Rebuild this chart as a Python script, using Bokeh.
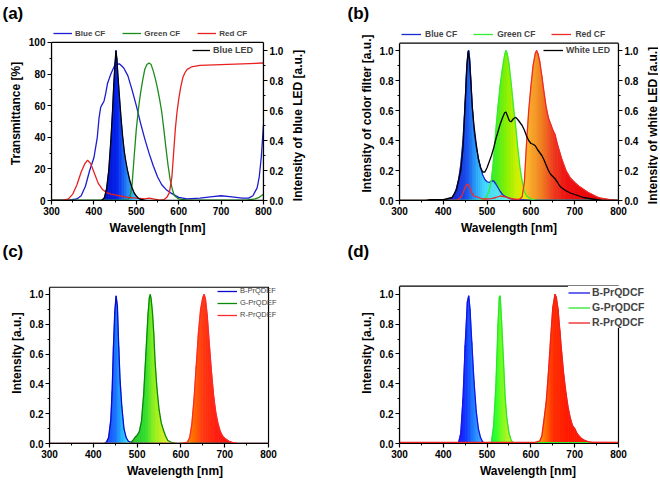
import math
from bokeh.plotting import figure
from bokeh.models import (Range1d, LinearAxis, FixedTicker, Legend, LegendItem, BoxAnnotation, Label,
                          NumeralTickFormatter, ColumnDataSource)
from bokeh.layouts import row, column
from bokeh.embed import file_html
from bokeh.resources import INLINE

FONT = "Liberation Sans"

# ---------------- data ----------------
X_TICKS = [300, 400, 500, 600, 700, 800]
X_MINOR = [350, 450, 550, 650, 750]

# (a) transmittance of colour filters [%] and blue LED intensity [a.u.]
A_BLUE_WL = [300, 340, 360, 370, 380, 390, 400, 408, 412, 416, 420, 424, 428, 432, 440, 450, 460, 470, 480,
             490, 500, 510, 520, 530, 540, 550, 560, 570, 580, 600, 620, 650, 680, 700, 720, 750, 765, 775,
             785, 790, 795, 800]
A_BLUE_T = [0.3, 0.3, 1, 3, 9, 19, 27, 40, 52, 59, 61, 63, 68, 74, 80, 86, 86.5, 84, 79,
            70, 60, 49, 39, 30, 22, 15, 10, 7, 5, 2, 1, 1.5, 2.5, 3, 2.5, 1.5, 1.5, 3,
            8, 15, 28, 48]
A_GREEN_WL = [300, 470, 480, 485, 490, 495, 500, 505, 510, 515, 520, 525, 530, 535, 540, 545, 550, 555,
              560, 565, 570, 575, 580, 585, 590, 600, 620, 760, 780, 790, 800]
A_GREEN_T = [0.3, 0.3, 0.5, 2, 10, 28, 45, 58, 68, 76, 83, 86, 87, 86, 82, 77, 71, 64,
             56, 45, 33, 22, 13, 7, 3, 1, 0.3, 0.3, 1, 2, 4]
A_RED_WL = [300, 330, 340, 350, 360, 370, 378, 385, 392, 400, 410, 420, 430, 440, 450, 460, 470, 480,
            500, 520, 530, 540, 555, 565, 572, 578, 584, 588, 592, 596, 600, 605, 610, 615, 620, 630,
            650, 700, 750, 800]
A_RED_T = [0, 0.3, 1, 4, 10, 18, 23, 25.5, 23.5, 18, 11, 7, 5, 4, 3.5, 3, 2.5, 2,
           1.5, 1, 1.5, 1, 0.3, 0.5, 2, 5, 15, 30, 45, 56, 64, 72, 78, 81, 83, 84.5,
           85.5, 86, 86.5, 87]
A_LED_WL = [300, 415, 420, 425, 430, 435, 440, 444, 447, 450, 452, 454, 457, 460, 464, 468, 472, 476,
            480, 485, 490, 495, 500, 505, 510, 520, 530, 800]
A_LED_I = [0, 0, 0.005, 0.02, 0.08, 0.2, 0.4, 0.6, 0.78, 0.92, 1.0, 0.95, 0.82, 0.7, 0.55, 0.42, 0.32, 0.25,
           0.19, 0.13, 0.085, 0.05, 0.03, 0.015, 0.008, 0.003, 0, 0]

# (b) colour-filtered spectra and white LED [a.u.]
B_BLUE_WL = [300, 400, 410, 420, 425, 430, 435, 440, 445, 450, 453, 456, 458, 460, 463, 466, 470, 475,
             480, 485, 490, 495, 500, 505, 510, 515, 520, 525, 530, 535, 540, 550, 560, 600, 750, 760, 800]
B_BLUE_I = [0, 0, 0.005, 0.02, 0.04, 0.08, 0.14, 0.24, 0.4, 0.66, 0.86, 0.98, 1.0, 0.95, 0.8, 0.63, 0.47, 0.36,
            0.28, 0.22, 0.17, 0.14, 0.125, 0.12, 0.13, 0.13, 0.11, 0.085, 0.06, 0.04, 0.03, 0.015, 0.008,
            0.003, 0.002, 0, 0]
B_GREEN_WL = [300, 480, 490, 495, 500, 505, 510, 515, 520, 525, 530, 535, 540, 543, 546, 550, 555, 560,
              565, 570, 575, 580, 585, 590, 600, 610, 620, 800]
B_GREEN_I = [0, 0, 0.005, 0.012, 0.03, 0.07, 0.14, 0.28, 0.47, 0.63, 0.77, 0.88, 0.97, 1.0, 0.98, 0.91, 0.78,
             0.63, 0.5, 0.35, 0.22, 0.13, 0.06, 0.03, 0.01, 0.003, 0, 0]
B_RED_WL = [300, 430, 440, 445, 450, 455, 460, 465, 470, 480, 490, 500, 510, 520, 530, 540, 550, 560, 570,
            575, 580, 585, 590, 595, 600, 605, 610, 613, 616, 620, 625, 630, 635, 640, 645, 650, 655, 660,
            665, 670, 680, 690, 700, 710, 720, 730, 740, 750, 760, 770, 780, 800]
B_RED_I = [0, 0, 0.02, 0.05, 0.09, 0.11, 0.09, 0.05, 0.03, 0.02, 0.01, 0.01, 0.012, 0.02, 0.03, 0.025, 0.015,
           0.01, 0.008, 0.01, 0.025, 0.12, 0.38, 0.6, 0.76, 0.9, 0.98, 1.0, 0.98, 0.93, 0.83, 0.72, 0.62,
           0.55, 0.51, 0.47, 0.44, 0.38, 0.33, 0.28, 0.2, 0.15, 0.12, 0.095, 0.075, 0.055, 0.04, 0.025,
           0.015, 0.01, 0.005, 0]
B_WHITE_WL = [300, 360, 370, 400, 420, 430, 440, 445, 450, 454, 457, 460, 463, 466, 470, 475, 480, 485, 490,
              495, 500, 505, 510, 515, 520, 525, 530, 535, 540, 543, 547, 551, 555, 560, 565, 570, 575, 580,
              585, 590, 595, 600, 605, 610, 615, 620, 625, 630, 635, 640, 645, 650, 655, 660, 665, 670, 680,
              690, 700, 710, 720, 730, 740, 750, 760, 800]
B_WHITE_I = [0, 0, 0.005, 0.005, 0.02, 0.07, 0.2, 0.35, 0.65, 0.9, 1.0, 0.93, 0.78, 0.63, 0.5, 0.38, 0.28,
             0.22, 0.19, 0.19, 0.22, 0.26, 0.3, 0.35, 0.41, 0.46, 0.51, 0.55, 0.585, 0.59, 0.56, 0.53, 0.525,
             0.545, 0.555, 0.54, 0.52, 0.5, 0.47, 0.43, 0.4, 0.38, 0.375, 0.365, 0.34, 0.32, 0.3, 0.27,
             0.235, 0.2, 0.175, 0.16, 0.145, 0.125, 0.1, 0.085, 0.065, 0.05, 0.04, 0.03, 0.02, 0.015,
             0.01, 0.005, 0.002, 0]

# (c) PrQDEF emission [a.u.]
C_BLUE_WL = [300, 425, 430, 435, 440, 443, 446, 449, 452, 455, 458, 461, 465, 470, 475, 480, 490, 500, 800]
C_BLUE_I = [0, 0, 0.01, 0.04, 0.16, 0.35, 0.65, 0.88, 0.99, 0.92, 0.65, 0.43, 0.25, 0.1, 0.04, 0.015, 0.003,
            0, 0]
C_GREEN_WL = [300, 480, 485, 490, 495, 500, 505, 510, 515, 520, 525, 528, 530, 532, 535, 538, 541, 545, 550,
              555, 560, 565, 570, 580, 590, 800]
C_GREEN_I = [0, 0, 0.005, 0.02, 0.04, 0.055, 0.08, 0.15, 0.33, 0.6, 0.87, 0.98, 1.0, 0.97, 0.88, 0.74, 0.55,
             0.38, 0.23, 0.14, 0.09, 0.05, 0.02, 0.005, 0, 0]
C_RED_WL = [300, 600, 610, 615, 620, 625, 630, 635, 640, 645, 650, 653, 656, 660, 665, 670, 675, 680, 685,
            690, 695, 700, 710, 720, 730, 800]
C_RED_I = [0, 0, 0.005, 0.01, 0.04, 0.13, 0.3, 0.52, 0.74, 0.9, 0.98, 1.0, 0.97, 0.86, 0.66, 0.47, 0.31, 0.2,
           0.13, 0.08, 0.05, 0.035, 0.015, 0.005, 0, 0]

# (d) PrQDCF emission [a.u.]
D_BLUE_WL = [300, 430, 435, 440, 445, 450, 455, 458, 461, 465, 470, 475, 480, 485, 490, 495, 800]
D_BLUE_I = [0.004, 0.004, 0.008, 0.07, 0.3, 0.66, 0.95, 0.99, 0.9, 0.68, 0.42, 0.22, 0.1, 0.04, 0.01, 0.004,
            0.004]
D_GREEN_WL = [300, 505, 510, 515, 520, 525, 528, 530, 533, 537, 541, 545, 550, 555, 560, 800]
D_GREEN_I = [0.004, 0.004, 0.01, 0.12, 0.38, 0.8, 0.98, 0.99, 0.82, 0.58, 0.32, 0.17, 0.07, 0.02, 0.006, 0.006]
D_RED_WL = [300, 600, 610, 615, 620, 625, 630, 635, 640, 645, 650, 655, 658, 662, 666, 670, 675, 680, 685,
            690, 695, 700, 705, 710, 715, 720, 730, 740, 800]
D_RED_I = [0.007, 0.007, 0.008, 0.012, 0.015, 0.05, 0.16, 0.28, 0.47, 0.7, 0.91, 1.0, 0.98, 0.9, 0.76, 0.62,
           0.46, 0.34, 0.24, 0.17, 0.12, 0.1, 0.07, 0.05, 0.035, 0.025, 0.012, 0.008, 0.007]


# ---------------- helpers ----------------
def hex2rgb(h):
    return tuple(int(h[i:i + 2], 16) for i in (1, 3, 5))


def grad(stops, w):
    if w <= stops[0][0]:
        return stops[0][1]
    for (w0, c0), (w1, c1) in zip(stops, stops[1:]):
        if w <= w1:
            t = (w - w0) / (w1 - w0)
            a, b = hex2rgb(c0), hex2rgb(c1)
            return "#%02x%02x%02x" % tuple(round(a[k] + (b[k] - a[k]) * t) for k in range(3))
    return stops[-1][1]


def fill_spectrum(p, wl, v, stops, lo, hi, range_name="default"):
    xs, ys, cs = [], [], []
    for i in range(len(wl) - 1):
        x0, x1 = wl[i], wl[i + 1]
        if x1 <= lo or x0 >= hi:
            continue
        xs.append([x0, x1, x1, x0])
        ys.append([0, 0, v[i + 1], v[i]])
        cs.append(grad(stops, (x0 + x1) / 2))
    src = ColumnDataSource(dict(xs=xs, ys=ys, c=cs))
    p.patches("xs", "ys", source=src, fill_color="c", line_color="c", line_width=0.8,
              y_range_name=range_name)


def make_fig(w, h, bl, br, bt, bb, xend, ytop, box_top, title, title_offset, title_standoff):
    p = figure(width=w, height=h, x_range=Range1d(300, xend), y_range=Range1d(0, ytop),
               output_backend="svg", toolbar_location=None,
               min_border_left=bl, min_border_right=br, min_border_top=bt, min_border_bottom=bb)
    p.grid.visible = False
    p.outline_line_alpha = 0
    p.background_fill_color = "white"
    p.border_fill_color = "white"
    p.title.text = title
    p.title.align = "left"
    p.title.vertical_align = "top"
    p.title.offset = title_offset
    p.title.standoff = title_standoff
    p.title.text_font = FONT
    p.title.text_font_style = "bold"
    p.title.text_font_size = "17px"
    p.title.text_color = "black"
    p.add_layout(BoxAnnotation(left=300, right=800, bottom=0, top=box_top, fill_alpha=0,
                               line_color="black", line_width=1.2, line_alpha=1))
    return p


def style_axis(ax, label, ticks, minor, bounds, fmt=None):
    ax.axis_label = label
    ax.ticker = FixedTicker(ticks=ticks, minor_ticks=minor)
    ax.bounds = bounds
    ax.axis_label_text_font = FONT
    ax.axis_label_text_font_style = "bold"
    ax.axis_label_text_font_size = "12px"
    ax.axis_label_text_color = "black"
    ax.major_label_text_font = FONT
    ax.major_label_text_font_style = "bold"
    ax.major_label_text_font_size = "10px"
    ax.major_label_text_color = "black"
    ax.major_tick_out = 4
    ax.major_tick_in = 0
    ax.minor_tick_out = 2
    ax.minor_tick_in = 0
    ax.axis_line_width = 1.2
    ax.major_tick_line_width = 1.2
    ax.major_label_standoff = 2
    ax.axis_label_standoff = 3
    if fmt:
        ax.formatter = NumeralTickFormatter(format=fmt)


def add_legend(p, items, loc, orientation, size, bold, glyph_w, standoff, spacing, label_h, bg=None):
    lg = Legend(items=[LegendItem(label=t, renderers=[r]) for t, r in items],
                location=loc, orientation=orientation,
                label_text_font=FONT, label_text_font_size=size,
                label_text_font_style="bold" if bold else "normal",
                glyph_width=glyph_w, glyph_height=label_h, label_height=label_h,
                label_standoff=standoff, spacing=spacing, padding=0, margin=0,
                border_line_alpha=0,
                background_fill_color=bg or "white", background_fill_alpha=1 if bg else 0)
    p.add_layout(lg, "center")


def right_label(p, text, yval):
    p.add_layout(Label(x=11, y=yval, x_units="screen", y_units="data", y_range_name="led",
                       text=text, angle=math.pi / 2, angle_units="rad",
                       text_align="center", text_baseline="middle",
                       text_font=FONT, text_font_style="bold", text_font_size="12px",
                       text_color="black"), "right")


Y01 = [0, 0.2, 0.4, 0.6, 0.8, 1.0]
Y01_MINOR = [0.1, 0.3, 0.5, 0.7, 0.9]
LW = 1.3

# ---------------- (a) ----------------
pa = make_fig(330, 240, 51, 67, 26, 40, 800, 110.1, 100, "(a)", -49, 4)
pa.extra_y_ranges = {"led": Range1d(0, 1.16)}
fill_spectrum(pa, A_LED_WL, A_LED_I,
              [(425, "#0010c8"), (455, "#0522ee"), (475, "#1c74f2"), (500, "#44c8ff")], 415, 530, "led")
ra_b = pa.line(A_BLUE_WL, A_BLUE_T, line_color="#1c1cd0", line_width=LW)
ra_g = pa.line(A_GREEN_WL, A_GREEN_T, line_color="#1a8c1a", line_width=LW)
ra_r = pa.line(A_RED_WL, A_RED_T, line_color="#e82020", line_width=LW)
ra_k = pa.line(A_LED_WL, A_LED_I, line_color="black", line_width=LW, y_range_name="led")
style_axis(pa.xaxis[0], "Wavelength [nm]", X_TICKS, X_MINOR, (300, 800))
style_axis(pa.yaxis[0], "Transmittance [%]", [0, 20, 40, 60, 80, 100], [10, 30, 50, 70, 90], (0, 100))
ax_ra = LinearAxis(y_range_name="led")
style_axis(ax_ra, "", Y01, Y01_MINOR, (0, 1.053), "0.0")
pa.add_layout(ax_ra, "right")
right_label(pa, "Intensity of blue LED [a.u.]", 0.5)
add_legend(pa, [("Blue CF", ra_b), ("Green CF", ra_g), ("Red CF", ra_r)], (2, 162), "horizontal",
           "8px", True, 19, 3, 17, 10)
add_legend(pa, [("Blue LED", ra_k)], (141, 145), "vertical", "9px", True, 18, 3, 0, 10)

# ---------------- (b) ----------------
pb = make_fig(328, 240, 69, 40, 26, 40, 800, 1.16, 1.049, "(b)", -52, 4)
pb.extra_y_ranges = {"led": Range1d(0, 1.16)}
fill_spectrum(pb, B_RED_WL, B_RED_I,
              [(578, "#ffd030"), (600, "#f8a828"), (625, "#f08020"), (650, "#ee4020"), (680, "#ee1212"),
               (760, "#e80000")], 575, 800)
fill_spectrum(pb, B_GREEN_WL, B_GREEN_I,
              [(495, "#30e030"), (520, "#44ee22"), (545, "#88f000"), (570, "#d0f000"), (595, "#f5e000")],
              485, 620)
fill_spectrum(pb, B_BLUE_WL, B_BLUE_I,
              [(420, "#2020d0"), (455, "#1550ee"), (475, "#2aa0f5"), (495, "#40d8ff"), (540, "#60e8e8")],
              405, 560)
rb_b = pb.line(B_BLUE_WL, B_BLUE_I, line_color="#1a2acc", line_width=LW)
rb_g = pb.line(B_GREEN_WL, B_GREEN_I, line_color="#33ee33", line_width=LW)
rb_r = pb.line(B_RED_WL, B_RED_I, line_color="#ee2a2a", line_width=LW)
rb_k = pb.line(B_WHITE_WL, B_WHITE_I, line_color="black", line_width=LW, y_range_name="led")
style_axis(pb.xaxis[0], "Wavelength [nm]", X_TICKS, X_MINOR, (300, 800))
style_axis(pb.yaxis[0], "Intensity of color filter [a.u.]", Y01, Y01_MINOR, (0, 1.049), "0.0")
ax_rb = LinearAxis(y_range_name="led")
style_axis(ax_rb, "", Y01, Y01_MINOR, (0, 1.049), "0.0")
pb.add_layout(ax_rb, "right")
right_label(pb, "Intensity of white LED [a.u.]", 0.5)
add_legend(pb, [("Blue CF", rb_b), ("Green CF", rb_g), ("Red CF", rb_r)], (2, 161), "horizontal",
           "8.5px", True, 20, 4, 16, 10)
add_legend(pb, [("White LED", rb_k)], (144, 145), "vertical", "8.8px", True, 20, 3, 0, 10)

# ---------------- (c) ----------------
pc = make_fig(330, 240, 49, 30, 22, 35, 873, 1.214, 1.048, "(c)", -47, 0)
fill_spectrum(pc, C_BLUE_WL, C_BLUE_I,
              [(430, "#1a4bff"), (450, "#1a6cff"), (465, "#20b0ff"), (480, "#40e0ff")], 425, 495)
fill_spectrum(pc, C_GREEN_WL, C_GREEN_I,
              [(485, "#30c030"), (520, "#30dd30"), (535, "#80ee20"), (555, "#c0f020"), (575, "#e8f040")],
              482, 585)
fill_spectrum(pc, C_RED_WL, C_RED_I,
              [(610, "#ffa000"), (630, "#ff6a00"), (650, "#ff3a10"), (680, "#ff2010"), (720, "#ee1010")],
              605, 730)
rc_b = pc.line(C_BLUE_WL, C_BLUE_I, line_color="#0a0acc", line_width=LW)
rc_g = pc.line(C_GREEN_WL, C_GREEN_I, line_color="#0a8a0a", line_width=LW)
rc_r = pc.line(C_RED_WL, C_RED_I, line_color="#ff2a2a", line_width=LW)
style_axis(pc.xaxis[0], "Wavelength [nm]", X_TICKS, X_MINOR, (300, 800))
style_axis(pc.yaxis[0], "Intensity [a.u.]", Y01, Y01_MINOR, (0, 1.048), "0.0")
add_legend(pc, [("B-PrQDEF", rc_b), ("G-PrQDEF", rc_g), ("R-PrQDEF", rc_r)], (168, 124), "vertical",
           "7.5px", False, 20, 3, 3, 8)

# ---------------- (d) ----------------
pd_ = make_fig(328, 240, 69, 2, 22, 36, 886.8, 1.213, 1.055, "(d)", -52, 0)
fill_spectrum(pd_, D_BLUE_WL, D_BLUE_I,
              [(435, "#2010ff"), (455, "#1040ff"), (470, "#2080ff"), (490, "#40b0ff")], 432, 495)
fill_spectrum(pd_, D_GREEN_WL, D_GREEN_I,
              [(510, "#00ff40"), (530, "#60ff20"), (550, "#c0f020"), (565, "#e0f040")], 507, 562)
fill_spectrum(pd_, D_RED_WL, D_RED_I,
              [(610, "#ffb000"), (630, "#ff8000"), (650, "#ff3000"), (680, "#ff1a00")], 612, 742)
rd_b = pd_.line(D_BLUE_WL, D_BLUE_I, line_color="#1515e6", line_width=LW)
rd_g = pd_.line(D_GREEN_WL, D_GREEN_I, line_color="#2ee62e", line_width=LW)
rd_r = pd_.line(D_RED_WL, D_RED_I, line_color="#f02020", line_width=LW)
style_axis(pd_.xaxis[0], "Wavelength [nm]", X_TICKS, X_MINOR, (300, 800))
style_axis(pd_.yaxis[0], "Intensity [a.u.]", Y01, Y01_MINOR, (0, 1.055), "0.0")
add_legend(pd_, [("B-PrQDCF", rd_b), ("G-PrQDCF", rd_g), ("R-PrQDCF", rd_r)], (169, 115), "vertical",
           "10.5px", True, 22, 2, 3, 11, bg="white")

layout = column(row(pa, pb), row(pc, pd_))
open("out.html", "w").write(file_html(layout, INLINE))
